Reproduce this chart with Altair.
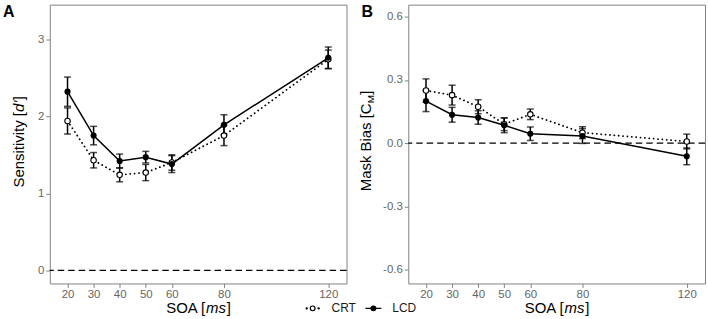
import altair as alt
import pandas as pd

# ---------------- data ----------------
soa = [20, 30, 40, 50, 60, 80, 120]
series_names = ["CRT", "LCD"]

a_crt = [1.94, 1.43, 1.24, 1.27, 1.40, 1.75, 2.74]
a_crt_err = [0.17, 0.10, 0.09, 0.105, 0.10, 0.13, 0.12]
a_lcd = [2.32, 1.75, 1.42, 1.47, 1.38, 1.89, 2.76]
a_lcd_err = [0.19, 0.12, 0.09, 0.075, 0.11, 0.13, 0.14]

b_crt = [0.25, 0.228, 0.173, 0.09, 0.137, 0.05, 0.008]
b_crt_err = [0.055, 0.047, 0.033, 0.03, 0.025, 0.028, 0.035]
b_lcd = [0.20, 0.135, 0.122, 0.085, 0.045, 0.034, -0.062]
b_lcd_err = [0.05, 0.035, 0.032, 0.035, 0.032, 0.035, 0.04]

a_ticks = [0, 1, 2, 3]
b_ticks = [-0.6, -0.3, 0.0, 0.3, 0.6]

FONT = "Liberation Sans"
W, H = 298, 280

# legend symbols: dotted line + open circle, solid line + filled circle
CRT_PATH = ("M-0.83,0A0.08,0.08 0 1 0 -0.67,0A0.08,0.08 0 1 0 -0.83,0Z"
            "M0.67,0A0.08,0.08 0 1 0 0.83,0A0.08,0.08 0 1 0 0.67,0Z"
            "M-0.3,0A0.3,0.3 0 1 0 0.3,0A0.3,0.3 0 1 0 -0.3,0Z")
LCD_PATH = ("M-1,0L-0.3,0M0.3,0L1,0"
            "M-0.3,0A0.3,0.3 0 1 0 0.3,0A0.3,0.3 0 1 0 -0.3,0Z")


def make_df(crt, crt_err, lcd, lcd_err):
    rows = []
    for s, vals, errs in (("CRT", crt, crt_err), ("LCD", lcd, lcd_err)):
        for x, v, e in zip(soa, vals, errs):
            rows.append({"soa": x, "val": v, "lo": v - e, "hi": v + e, "series": s})
    return pd.DataFrame(rows)


def text_piece(txt, x, y, **kw):
    return alt.Chart(pd.DataFrame({"t": [txt]})).mark_text(font=FONT, color="black", **kw).encode(
        x=alt.value(x), y=alt.value(y), text="t:N")


def panel(df, ydomain, yticks, yfmt_expr, letter, ytitle_parts):
    base = alt.Chart(df)
    xenc = alt.X("soa:Q", scale=alt.Scale(domain=[13.2, 127], nice=False, zero=False),
                 axis=alt.Axis(values=soa, title=None, format="d"))
    yenc = alt.Y("val:Q", scale=alt.Scale(domain=ydomain, nice=False, zero=False),
                 axis=alt.Axis(values=yticks, title=None, labelExpr=yfmt_expr, labelPadding=2))

    zero = alt.Chart(pd.DataFrame({"z": [0]})).mark_rule(
        color="black", strokeDash=[6.5, 4], strokeWidth=1.3).encode(y=alt.Y("z:Q"))

    line_crt = base.transform_filter(alt.datum.series == "CRT").mark_line(
        color="black", strokeWidth=1.8, strokeDash=[0.1, 4.3], strokeCap="round").encode(x=xenc, y=yenc)
    line_lcd = base.transform_filter(alt.datum.series == "LCD").mark_line(
        color="black", strokeWidth=1.5).encode(x=xenc, y=yenc)

    err = base.mark_rule(color="black", strokeWidth=1.5).encode(
        x="soa:Q", y="lo:Q", y2="hi:Q")
    cap_lo = base.mark_tick(color="black", orient="horizontal", size=7, thickness=1.5).encode(
        x="soa:Q", y="lo:Q")
    cap_hi = base.mark_tick(color="black", orient="horizontal", size=7, thickness=1.5).encode(
        x="soa:Q", y="hi:Q")

    pts_crt = base.transform_filter(alt.datum.series == "CRT").mark_point(
        filled=False, fill="white", stroke="black", strokeWidth=1.1, size=30, opacity=1, shape="circle").encode(
        x="soa:Q", y="val:Q")
    pts_lcd = base.transform_filter(alt.datum.series == "LCD").mark_point(
        filled=True, color="black", size=38, opacity=1, shape="circle").encode(
        x="soa:Q", y="val:Q")

    legend_layer = base.mark_point(color="black", opacity=0).encode(
        x="soa:Q", y="val:Q",
        shape=alt.Shape("series:N", scale=alt.Scale(domain=series_names, range=[CRT_PATH, LCD_PATH]),
                        legend=alt.Legend(title=None)),
        fill=alt.Fill("series:N", scale=alt.Scale(domain=series_names, range=["white", "black"]),
                      legend=alt.Legend(title=None)),
        stroke=alt.Stroke("series:N", scale=alt.Scale(domain=series_names, range=["black", "black"]),
                          legend=alt.Legend(title=None)),
    )

    letter_txt = text_piece(letter, -47, 12, fontSize=16, fontWeight="bold", align="left",
                            baseline="alphabetic")
    pieces = []
    for txt, dy, style, size, dx in ytitle_parts:
        kw = dict(fontSize=size, angle=270, align="left", baseline="alphabetic")
        if style:
            kw["fontStyle"] = style
        pieces.append(text_piece(txt, dx, dy, **kw))

    xt = [("SOA [", 116.9, None), ("ms", 156.9, "italic"), ("]", 177.7, None)]
    for txt, x, style in xt:
        kw = dict(fontSize=15, align="left", baseline="alphabetic")
        if style:
            kw["fontStyle"] = style
        pieces.append(text_piece(txt, x, 309.3, **kw))

    main = base.mark_line(opacity=0).encode(x=xenc, y=yenc)
    return alt.layer(main, zero, line_crt, line_lcd, err, cap_lo, cap_hi, pts_crt, pts_lcd,
                     legend_layer, letter_txt, *pieces).properties(width=W, height=H)


df_a = make_df(a_crt, a_crt_err, a_lcd, a_lcd_err)
df_b = make_df(b_crt, b_crt_err, b_lcd, b_lcd_err)

# y-title A: "Sensitivity [d']"
a_title = [("Sensitivity [", 183.6, None, 15, -25.5),
           ("d'", 107.7, "italic", 15, -25.5),
           ("]", 95.9, None, 15, -25.5)]
# y-title B: "Mask Bias [C_M]"
b_title = [("Mask Bias [C", 187.4, None, 15, -37.5),
           ("M", 99.1, None, 10, -34.5),
           ("]", 90.5, None, 15, -37.5)]

pa = panel(df_a, [-0.17, 3.45], a_ticks, "format(datum.value, 'd')", "A", a_title)
pb = panel(df_b, [-0.665, 0.657], b_ticks,
           "replace(format(datum.value, '.1f'), '\u2212', '-')", "B", b_title)

chart = alt.hconcat(pa, pb, spacing=62, bounds="flush").resolve_scale(
    x="independent", y="independent"
).properties(
    padding={"left": 2, "top": 2, "right": 1, "bottom": 0}
).configure_view(
    stroke="#828282", strokeWidth=1
).configure_axis(
    grid=False, domain=False, tickColor="#828282", tickSize=4, tickWidth=1,
    labelColor="#666666", labelFontSize=11.5, labelFont=FONT, labelPadding=1
).configure_legend(
    orient="none", legendX=255, legendY=296, direction="horizontal",
    symbolSize=256, symbolStrokeWidth=1.2, symbolStrokeColor="black", symbolOpacity=1,
    labelFont=FONT, labelFontSize=12, labelColor="#1a1a1a", labelOffset=10,
    columnPadding=6, padding=0
)

chart.save("out.html", embed_options={"renderer": "svg", "actions": False})
